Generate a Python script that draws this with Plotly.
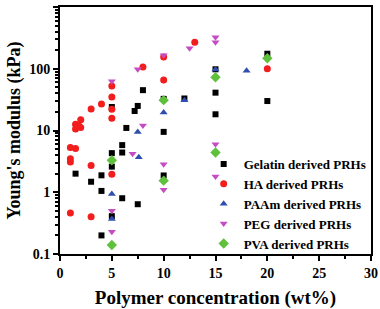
import plotly.graph_objects as go

gel_x = [1.5, 3, 4, 4, 4, 5, 5, 5, 5, 6, 6, 6, 6.4, 7.2, 7.5, 7.5, 8, 10, 10, 10, 12, 15, 15, 15, 20, 20]
gel_y = [2.0, 1.48, 1.88, 1.05, 0.20, 0.41, 2.6, 4.3, 24, 0.80, 4.4, 5.8, 11, 20.7, 25, 0.64, 45, 32.5, 9.5, 1.87, 33, 98, 41, 18.3, 175, 30]

ha_x = [1, 1.5, 1, 1, 1, 3, 3, 1.5, 1.5, 2, 2, 1.8, 3, 4, 5, 5, 5, 5, 5, 8, 10, 10, 13, 20]
ha_y = [5.3, 5.1, 3.5, 3.1, 0.46, 2.7, 0.40, 12.6, 10.6, 15, 11.2, 12, 22.3, 26.8, 52.5, 35, 22, 15.8, 1.95, 107, 155, 66, 268, 100]

paam_x = [5, 5, 7.5, 7.6, 10, 12, 15, 18]
paam_y = [0.94, 0.37, 9.5, 3.7, 19.5, 31, 97, 93]

peg_x = [5, 5, 5, 7, 7.5, 8, 10, 10, 10, 12.5, 15, 15, 15, 15]
peg_y = [63, 0.50, 0.23, 4.2, 98, 12, 165, 2.84, 1.1, 214, 323, 268, 6.0, 1.8]

pva_x = [5, 5, 10, 10, 15, 15, 20]
pva_y = [3.3, 0.14, 31, 1.54, 73, 4.4, 148]

names = ["Gelatin derived PRHs", "HA derived PRHs", "PAAm derived PRHs",
         "PEG derived PRHs", "PVA derived PRHs"]

x_ticks = [0, 5, 10, 15, 20, 25, 30]
y_ticks = [0.1, 1, 10, 100, 1000]
y_ticktext = ["0.1", "1", "10", "100", "1000"]

FONT = "Liberation Serif"

series = [
    (gel_x, gel_y, names[0], "square", "#000000", 6),
    (ha_x, ha_y, names[1], "circle", "#f21d1d", 7),
    (paam_x, paam_y, names[2], "triangle-up", "#2f4fb0", 7),
    (peg_x, peg_y, names[3], "triangle-down", "#c54cc2", 7),
    (pva_x, pva_y, names[4], "diamond", "#5fc13b", 8),
]

fig = go.Figure()
for xs, ys, nm, sym, col, sz in series:
    fig.add_trace(go.Scatter(
        x=xs, y=ys, mode="markers", name=nm,
        marker=dict(symbol=sym, color=col, size=sz, line=dict(width=0)),
    ))

minor_y = [m * 10 ** e for e in range(-1, 3) for m in range(2, 10)]

fig.update_layout(
    width=380, height=309,
    margin=dict(l=60, r=9, t=7, b=55, autoexpand=False),
    paper_bgcolor="white", plot_bgcolor="white",
    font=dict(family=FONT, color="black", weight="bold"),
    showlegend=True,
    legend=dict(
        x=0.462, y=-0.02, xanchor="left", yanchor="bottom",
        bgcolor="rgba(0,0,0,0)", borderwidth=0,
        font=dict(family=FONT, size=13, color="black", weight="bold"),
        itemwidth=30, tracegroupgap=0,
    ),
    xaxis=dict(
        range=[0, 30], tickvals=x_ticks,
        showgrid=False, zeroline=False,
        showline=True, linecolor="black", linewidth=2, mirror=True,
        ticks="outside", ticklen=5, tickwidth=2, tickcolor="black",
        minor=dict(dtick=2.5, tick0=0, ticks="outside", ticklen=3, tickwidth=1.5, tickcolor="black", showgrid=False),
        tickfont=dict(family=FONT, size=14, color="black", weight="bold"),
        title=dict(text="Polymer concentration (wt%)", standoff=12,
                   font=dict(family=FONT, size=19, color="black", weight="bold")),
    ),
    yaxis=dict(
        type="log", range=[-1, 3], tickvals=y_ticks, ticktext=y_ticktext,
        showgrid=False, zeroline=False,
        showline=True, linecolor="black", linewidth=2, mirror=True,
        ticks="outside", ticklen=5, tickwidth=2, tickcolor="black",
        minor=dict(tickvals=minor_y, ticks="outside", ticklen=3, tickwidth=1.5, tickcolor="black", showgrid=False),
        tickfont=dict(family=FONT, size=14, color="black", weight="bold"),
        title=dict(text="Young's modulus (kPa)", standoff=4,
                   font=dict(family=FONT, size=18, color="black", weight="bold")),
    ),
)

fig.write_html("out.html", config={"displayModeBar": False},
               post_script="document.body.style.margin='0px';")
